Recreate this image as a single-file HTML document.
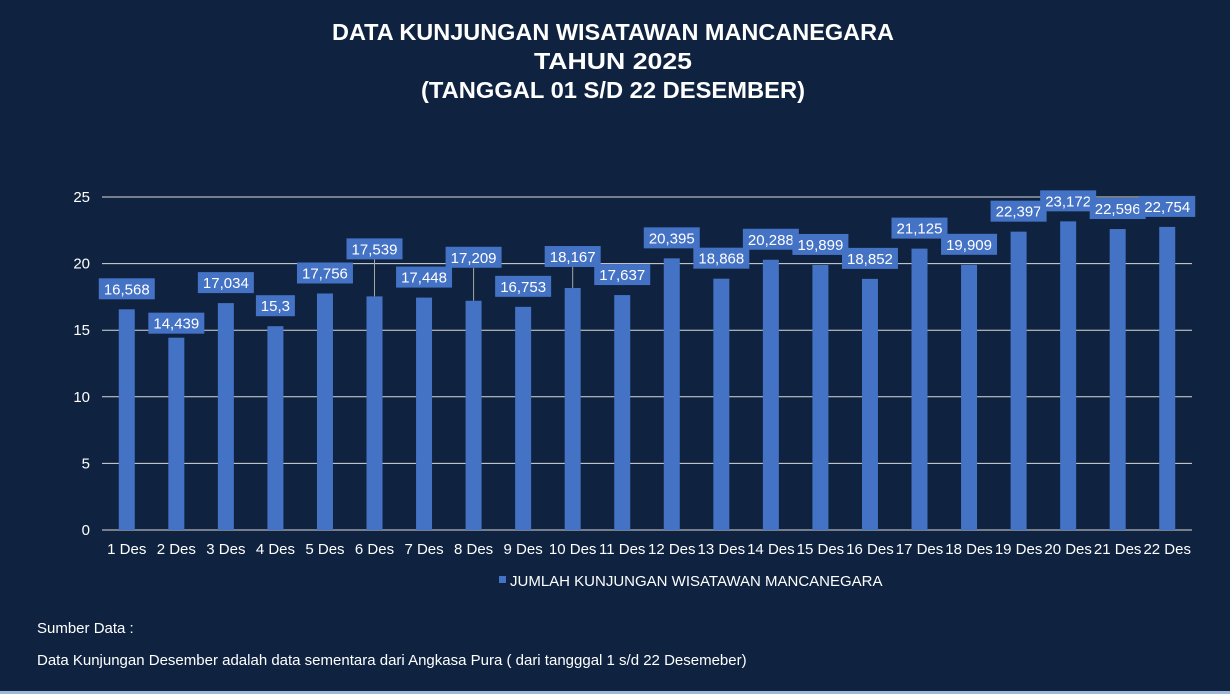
<!DOCTYPE html>
<html><head><meta charset="utf-8">
<style>
body{margin:0;width:1230px;height:694px;background:#0f2341;overflow:hidden;font-family:"Liberation Sans",sans-serif;}
#wrap{position:relative;width:1230px;height:694px;background:#0f2341;border-bottom:3px solid #9fb6d6;box-sizing:border-box;}
.note{position:absolute;left:37px;color:#fff;font-size:15px;font-family:"Liberation Sans",sans-serif;}
</style></head><body>
<div id="wrap">
<svg id="chart" width="1230" height="694" style="position:absolute;left:0;top:0"></svg>
<div class="note" style="top:620px">Sumber Data :</div>
<div class="note" style="top:652px">Data Kunjungan Desember adalah data sementara dari Angkasa Pura ( dari tangggal 1 s/d 22 Desemeber)</div>
</div>
<script>
const categories=["1 Des","2 Des","3 Des","4 Des","5 Des","6 Des","7 Des","8 Des","9 Des","10 Des","11 Des","12 Des","13 Des","14 Des","15 Des","16 Des","17 Des","18 Des","19 Des","20 Des","21 Des","22 Des"];
const values=[16.568,14.439,17.034,15.3,17.756,17.539,17.448,17.209,16.753,18.167,17.637,20.395,18.868,20.288,19.899,18.852,21.125,19.909,22.397,23.172,22.596,22.754];
const valueLabels=["16,568","14,439","17,034","15,3","17,756","17,539","17,448","17,209","16,753","18,167","17,637","20,395","18,868","20,288","19,899","18,852","21,125","19,909","22,397","23,172","22,596","22,754"];
const yTicks=[0,5,10,15,20,25];
const labelLift=[10,4,10,10,10,37,10,33,10,21,10,10,10,10,10,10,10,10,10,10,10,10];

const NS="http://www.w3.org/2000/svg";
const svg=document.getElementById('chart');
const X0=102,X1=1192,Y0=530,Y1=197,YMAX=25;
const bw=(X1-X0)/categories.length;
const y=v=>Y0-(v/YMAX)*(Y0-Y1);
const xc=i=>X0+bw*(i+0.5);
function mk(t,a){const e=document.createElementNS(NS,t);for(const k in a)e.setAttribute(k,a[k]);svg.appendChild(e);return e;}

const titles=["DATA KUNJUNGAN WISATAWAN MANCANEGARA","TAHUN 2025","(TANGGAL 01 S/D 22 DESEMBER)"];
titles.forEach((t,i)=>{const e=mk('text',{x:613,y:40+i*29,'text-anchor':'middle',fill:'#fff','font-size':23,'font-weight':'bold','font-family':'Liberation Sans, sans-serif',textLength:[562,158,384][i],lengthAdjust:'spacingAndGlyphs'});e.textContent=t;

});

yTicks.forEach(t=>{
 const l=mk('line',{x1:X0,x2:X1,y1:y(t),y2:y(t),stroke:'#d9d9d9','stroke-width':1});
 
 
 const tx=mk('text',{x:90,y:y(t)+5,'text-anchor':'end',fill:'#fff','font-size':15});tx.textContent=t;
 
 
});

categories.forEach((c,i)=>{
 const cx=xc(i),top=y(values[i]);
 const b=mk('rect',{x:cx-8,y:top,width:16,height:Y0-top,fill:'#4472c4'});
 
 
 const tl=mk('text',{x:cx,y:554,'text-anchor':'middle',fill:'#fff','font-size':15});tl.textContent=c;
 
 
 const lab=valueLabels[i];const w=lab.length*8.5+5;const bb=top-labelLift[i];
 if(labelLift[i]>15){const ll=mk('line',{x1:cx,x2:cx,y1:bb,y2:top,stroke:'#a6a6a6','stroke-width':1});
  
  }
 const r=mk('rect',{x:cx-w/2,y:bb-21,width:w,height:21,fill:'#4472c4'});
 
 
 const t=mk('text',{x:cx,y:bb-5,'text-anchor':'middle',fill:'#fff','font-size':15});t.textContent=lab;
 
 
});

const lg=mk('rect',{x:499,y:576,width:7,height:7,fill:'#4472c4'});


const lt=mk('text',{x:510,y:586,fill:'#fff','font-size':15});lt.textContent="JUMLAH KUNJUNGAN WISATAWAN MANCANEGARA";


</script>
</body></html>
